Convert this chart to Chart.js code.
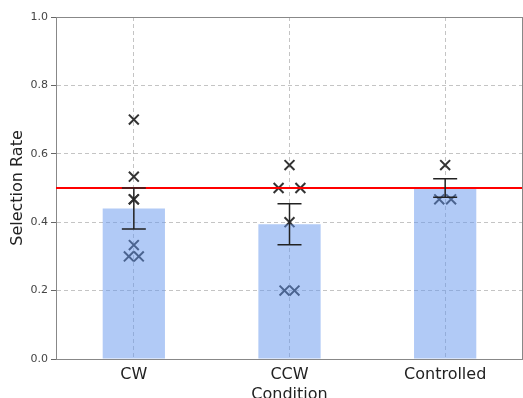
<!DOCTYPE html>
<html>
<head>
<meta charset="utf-8">
<script src="https://cdn.jsdelivr.net/npm/chart.js@4/dist/chart.umd.min.js"></script>
<style>
  html, body { margin: 0; padding: 0; background: #fff; }
  #wrap { width: 523px; height: 398px; }
</style>
</head>
<body>
<div id="wrap"><canvas id="mainChart"></canvas></div>
<script>
// Data
var conditions = ['CW', 'CCW', 'Controlled'];
var meanRates = [0.44, 0.394, 0.5];
var errRates = [0.06, 0.06, 0.027];
var chanceLevel = 0.5;
var yTicks = [0, 0.2, 0.4, 0.6, 0.8, 1.0];

// individual trials per condition (value + small horizontal jitter)
var cwValues = [0.7, 0.533, 0.467, 0.467, 0.333, 0.3, 0.3];
var cwJitter = [0, 0, 0, 0, 0, -0.032, 0.032];
var ccwValues = [0.567, 0.5, 0.5, 0.4, 0.2, 0.2];
var ccwJitter = [0, -0.07, 0.07, 0, -0.032, 0.032];
var ctrlValues = [0.567, 0.467, 0.467];
var ctrlJitter = [0, -0.038, 0.038];

var FONT = "'DejaVu Sans', sans-serif";

function toPoints(idx, vals, jit) {
  return vals.map(function(v, i) { return { x: idx + jit[i], y: v }; });
}

var trialPoints = []
  .concat(toPoints(0, cwValues, cwJitter))
  .concat(toPoints(1, ccwValues, ccwJitter))
  .concat(toPoints(2, ctrlValues, ctrlJitter));

// error bars + top/right frame
var extrasPlugin = {
  id: 'extras',
  afterDatasetsDraw: function(chart) {
    var ctx = chart.ctx;
    var xs = chart.scales.x, ys = chart.scales.y;
    ctx.save();
    ctx.strokeStyle = '#222';
    ctx.lineWidth = 1.5;
    meanRates.forEach(function(m, i) {
      var px = xs.getPixelForValue(i);
      var top = ys.getPixelForValue(m + errRates[i]);
      var bot = ys.getPixelForValue(m - errRates[i]);
      ctx.beginPath();
      ctx.moveTo(px, top); ctx.lineTo(px, bot);
      ctx.moveTo(px - 12, top); ctx.lineTo(px + 12, top);
      ctx.moveTo(px - 12, bot); ctx.lineTo(px + 12, bot);
      ctx.stroke();
    });
    var a = chart.chartArea;
    ctx.strokeStyle = '#888';
    ctx.lineWidth = 1;
    ctx.beginPath();
    ctx.moveTo(a.left, a.top + 0.5); ctx.lineTo(a.right, a.top + 0.5);
    ctx.moveTo(a.right - 0.5, a.top); ctx.lineTo(a.right - 0.5, a.bottom);
    ctx.stroke();
    ctx.restore();
  }
};

new Chart(document.getElementById('mainChart').getContext('2d'), {
  type: 'bar',
  data: {
    labels: conditions,
    datasets: [
      {
        type: 'line',
        label: 'chance',
        data: [{ x: -0.5, y: chanceLevel }, { x: 2.5, y: chanceLevel }],
        xAxisID: 'xj',
        borderColor: '#ff0000',
        borderWidth: 2,
        pointRadius: 0,
        order: 1
      },
      {
        label: 'mean',
        data: meanRates,
        backgroundColor: 'rgba(100,149,237,0.5)',
        borderWidth: 0,
        grouped: false,
        categoryPercentage: 1,
        barPercentage: 0.4,
        order: 2
      },
      {
        type: 'scatter',
        label: 'trials',
        data: trialPoints,
        xAxisID: 'xj',
        pointStyle: 'crossRot',
        pointRadius: 7,
        borderWidth: 2,
        borderColor: '#333',
        order: 3
      }
    ]
  },
  options: {
    responsive: true,
    maintainAspectRatio: false,
    animation: false,
    layout: { autoPadding: false, padding: { left: 0, right: 0, top: 17, bottom: 0 } },
    plugins: { legend: { display: false }, tooltip: { enabled: false } },
    scales: {
      x: {
        offset: true,
        grid: { offset: false, color: '#c4c4c4', drawTicks: false },
        border: { color: '#888', dash: [4, 3] },
        ticks: { color: '#222', padding: 6, font: { family: FONT, size: 16 } },
        title: {
          display: true, text: 'Condition', color: '#222',
          font: { family: FONT, size: 16, lineHeight: 0.4 },
          padding: { top: 0, bottom: 0 }
        },
        afterFit: function(s) { s.height = 39; }
      },
      xj: {
        type: 'linear',
        display: false,
        offset: false,
        ticks: { display: false },
        min: -0.5,
        max: 2.5
      },
      y: {
        min: 0,
        max: 1,
        afterBuildTicks: function(s) { s.ticks = yTicks.map(function(v) { return { value: v }; }); },
        grid: { color: '#c4c4c4', tickColor: '#666', tickLength: 5, tickBorderDash: [] },
        border: { color: '#888', dash: [4, 3] },
        ticks: {
          color: '#444', padding: 3, font: { family: FONT, size: 11 },
          callback: function(v) { return v.toFixed(1); }
        },
        title: {
          display: true, text: 'Selection Rate', color: '#222',
          font: { family: FONT, size: 16 },
          padding: { top: 8, bottom: 0 }
        },
        afterFit: function(s) { s.width = 56; }
      }
    }
  },
  plugins: [extrasPlugin]
});
</script>
</body>
</html>
